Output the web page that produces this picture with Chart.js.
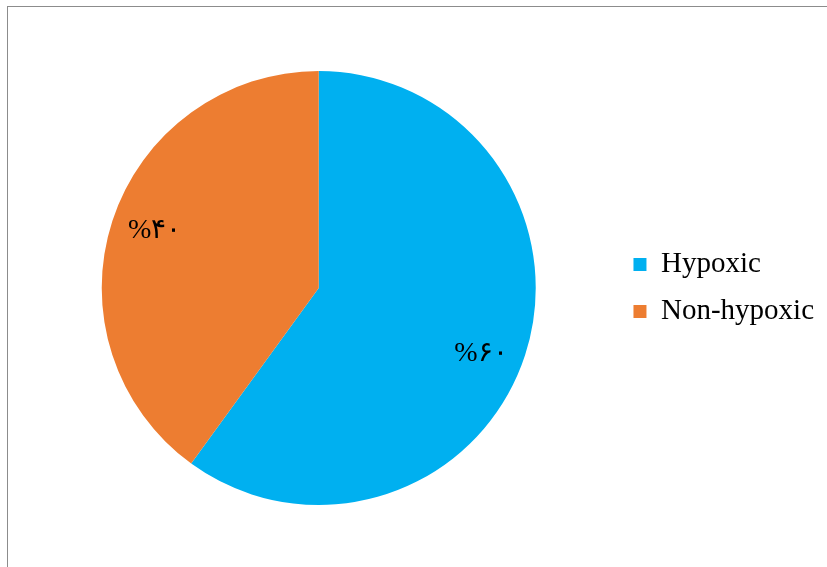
<!DOCTYPE html>
<html>
<head>
<meta charset="utf-8">
<script src="https://cdn.jsdelivr.net/npm/chart.js@4.4.0/dist/chart.umd.min.js"></script>
<style>
html,body{margin:0;padding:0;background:#fff;}
#wrap{position:absolute;left:0;top:0;width:827px;height:567px;}
#frame{position:absolute;left:7px;top:6px;width:830px;height:570px;border-left:1px solid #8c8c8c;border-top:1px solid #8c8c8c;}
canvas{position:absolute;left:0;top:0;}
</style>
</head>
<body>
<div id="wrap">
<div id="frame"></div>
<canvas id="c" width="827" height="567"></canvas>
</div>
<script>
const categories = ["Hypoxic", "Non-hypoxic"];
const values = [60, 40];
const valueLabels = ["%۶۰", "%۴۰"];
const colors = ["#00B0F0", "#ED7D31"];

const labelOffsets = [[-3, 12], [1, -4]];

const pctLabels = {
  id: 'pctLabels',
  afterDatasetsDraw(chart) {
    const ctx = chart.ctx;
    const meta = chart.getDatasetMeta(0);
    ctx.save();
    ctx.font = '28px "Liberation Serif", "DejaVu Serif", serif';
    ctx.fillStyle = '#000';
    ctx.textAlign = 'center';
    ctx.textBaseline = 'middle';
    meta.data.forEach((arc, i) => {
      const p = arc.getProps(['x','y','startAngle','endAngle','outerRadius'], true);
      const mid = (p.startAngle + p.endAngle) / 2;
      const r = p.outerRadius * 0.8;
      const x = p.x + Math.cos(mid) * r + labelOffsets[i][0];
      const y = p.y + Math.sin(mid) * r + labelOffsets[i][1];
      ctx.fillText(valueLabels[i], x, y);
    });
    ctx.restore();
  }
};

new Chart(document.getElementById('c'), {
  type: 'pie',
  data: {
    labels: categories,
    datasets: [{
      data: values,
      backgroundColor: colors,
      borderWidth: 0
    }]
  },
  options: {
    responsive: false,
    animation: false,
    layout: { padding: { left: 22, right: 3, top: 71, bottom: 62 } },
    plugins: {
      tooltip: { enabled: false },
      legend: {
        position: 'right',
        labels: {
          boxWidth: 13,
          boxHeight: 13,
          padding: 18,
          color: '#000',
          font: { family: '"Liberation Serif", "Times New Roman", serif', size: 29 }
        }
      }
    }
  },
  plugins: [pctLabels]
});
</script>
</body>
</html>
